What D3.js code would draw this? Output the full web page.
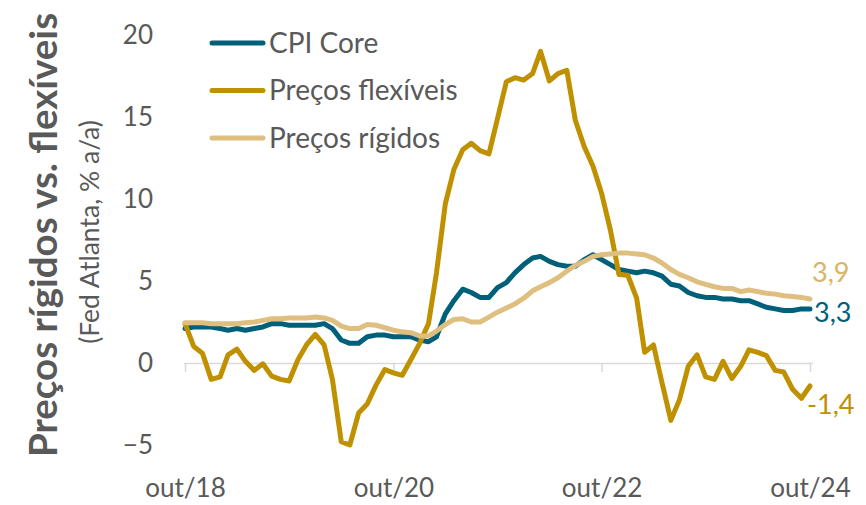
<!DOCTYPE html>
<html>
<head>
<meta charset="utf-8">
<script src="https://cdn.jsdelivr.net/npm/d3@7"></script>
<style>
  html, body { margin: 0; padding: 0; background: #fff; }
</style>
</head>
<body>
<div id="chart"></div>
<script>
// monthly, out/18 .. out/24
const startMonth = '2018-10';
const endMonth = '2024-10';
const tickLabels = ['out/18', 'out/20', 'out/22', 'out/24'];
const yTicks = [-5, 0, 5, 10, 15, 20];

const seriesNames = ['CPI Core', 'Preços flexíveis', 'Preços rígidos'];

const cpiCore = [
  2.1, 2.2, 2.2,
  2.2, 2.1, 2.0, 2.1, 2.0, 2.1, 2.2, 2.4, 2.4, 2.3, 2.3, 2.3,
  2.3, 2.4, 2.1, 1.4, 1.2, 1.2, 1.6, 1.7, 1.7, 1.6, 1.6, 1.6,
  1.4, 1.3, 1.6, 3.0, 3.8, 4.5, 4.3, 4.0, 4.0, 4.6, 4.9, 5.5,
  6.0, 6.4, 6.5, 6.2, 6.0, 5.9, 5.9, 6.3, 6.6, 6.3, 6.0, 5.7,
  5.6, 5.5, 5.6, 5.5, 5.3, 4.8, 4.7, 4.3, 4.1, 4.0, 4.0, 3.9,
  3.9, 3.8, 3.8, 3.6, 3.4, 3.3, 3.2, 3.2, 3.3, 3.3
];

const flexPrices = [
  2.4, 1.0, 0.6,
  -1.0, -0.85, 0.5, 0.85, 0.1, -0.45, -0.05, -0.8, -1.0, -1.1, 0.2, 1.1,
  1.75, 1.1, -1.0, -4.8, -5.0, -3.05, -2.5, -1.35, -0.4, -0.6, -0.75, 0.2,
  1.2, 2.4, 5.5, 9.7, 11.8, 13.0, 13.4, 12.95, 12.75, 14.9, 17.15, 17.4,
  17.25, 17.65, 19.0, 17.2, 17.65, 17.85, 14.8, 13.2, 12.0, 10.35, 8.1, 5.4,
  5.35, 3.95, 0.65, 1.1, -1.2, -3.5, -2.25, -0.2, 0.5, -0.85, -1.0, 0.1,
  -0.95, -0.2, 0.8, 0.65, 0.45, -0.45, -0.55, -1.6, -2.15, -1.4
];

const stickyPrices = [
  2.45, 2.45, 2.45,
  2.4, 2.4, 2.4, 2.4, 2.45, 2.5, 2.6, 2.7, 2.7, 2.75, 2.75, 2.75,
  2.8, 2.75, 2.6, 2.25, 2.1, 2.1, 2.35, 2.3, 2.15, 2.0, 1.9, 1.85,
  1.65, 1.65, 1.95, 2.35, 2.65, 2.7, 2.5, 2.5, 2.8, 3.1, 3.35, 3.6,
  3.95, 4.4, 4.65, 4.9, 5.2, 5.6, 5.95, 6.2, 6.5, 6.6, 6.65, 6.7,
  6.7, 6.65, 6.6, 6.4, 6.1, 5.7, 5.4, 5.2, 4.95, 4.8, 4.65, 4.55,
  4.55, 4.35, 4.45, 4.35, 4.25, 4.2, 4.1, 4.05, 4.0, 3.9
];

const endLabels = ['3,3', '-1,4', '3,9'];

class StickyFlexChart {
  constructor(container, config) {
    this.container = container;

    let defaults = {
      width: 866,
      height: 505,
      fontFamily: 'Lato, Carlito, Calibri, sans-serif',
      textColor: '#595959',
      axisColor: '#D9D9D9',
      colors: ['#00607A', '#BF9000', '#DFBF7F'],
      labelColors: ['#00607A', '#BF9000', '#D9B463'],
      lineWidth: 5,
      tickFontSize: 26,
      legendFontSize: 28
    };
    Object.assign(this, defaults, config);

    this.init();
  }

  init() {
    this.buildData();
    this.drawSvg();
    this.makeScales();
    this.drawTitle();
    this.drawAxes();
    this.drawLines();
    this.drawLegend();
    this.drawEndLabels();
  }

  buildData() {
    let parse = d3.timeParse('%Y-%m');
    this.months = d3.timeMonth.range(parse(startMonth), d3.timeMonth.offset(parse(endMonth), 1));
    let values = [cpiCore, flexPrices, stickyPrices];
    this.series = seriesNames.map((name, k) => ({
      name: name,
      color: this.colors[k],
      labelColor: this.labelColors[k],
      endLabel: endLabels[k],
      points: this.months.map((m, i) => ({ date: m, value: values[k][i] }))
    }));
  }

  drawSvg() {
    this.svg = d3.select(this.container)
      .append('svg')
      .attr('width', this.width)
      .attr('height', this.height)
      .attr('viewBox', `0 0 ${this.width} ${this.height}`)
      .style('font-family', this.fontFamily);
  }

  makeScales() {
    this.x = d3.scaleTime()
      .domain([this.months[0], this.months[this.months.length - 1]])
      .range([185, 810]);
    this.y = d3.scaleLinear()
      .domain([-5, 20])
      .range([445, 35]);
  }

  drawTitle() {
    this.svg.append('text')
      .attr('transform', 'translate(57, 235) rotate(-90)')
      .attr('text-anchor', 'middle')
      .attr('font-size', '38.5px')
      .attr('font-weight', 'bold')
      .attr('fill', this.textColor)
      .text('Preços rígidos vs. flexíveis');

    this.svg.append('text')
      .attr('transform', 'translate(99, 232) rotate(-90)')
      .attr('text-anchor', 'middle')
      .attr('font-size', '26.5px')
      .attr('fill', this.textColor)
      .text('(Fed Atlanta, % a/a)');
  }

  drawAxes() {
    let tickDates = tickLabels.map((t, i) => this.months[i * 24]);

    // zero line with tick marks
    let zeroAxis = this.svg.append('g')
      .attr('transform', `translate(0, ${this.y(0)})`)
      .call(d3.axisBottom(this.x).tickValues(tickDates).tickSize(9).tickSizeOuter(0).tickFormat(''));
    zeroAxis.select('.domain')
      .attr('stroke', this.axisColor)
      .attr('stroke-width', 1.5)
      .attr('d', `M${this.x(tickDates[0]) - 1},0.5H${this.x(tickDates[3]) + 3}`);
    zeroAxis.selectAll('.tick line').attr('stroke', this.axisColor).attr('stroke-width', 1.5);

    // labels sit below the plot (low position)
    let labelAxis = this.svg.append('g')
      .attr('transform', `translate(0, ${this.y(-5)})`)
      .call(d3.axisBottom(this.x).tickValues(tickDates).tickSize(0).tickPadding(34)
        .tickFormat((d, i) => tickLabels[i]));
    labelAxis.select('.domain').remove();
    labelAxis.selectAll('text')
      .attr('font-family', this.fontFamily)
      .attr('font-size', `${this.tickFontSize}px`)
      .attr('fill', this.textColor);

    let yAxis = this.svg.append('g')
      .attr('transform', 'translate(160, 0)')
      .call(d3.axisLeft(this.y).tickValues(yTicks).tickSize(0).tickPadding(7));
    yAxis.select('.domain').remove();
    yAxis.selectAll('text')
      .attr('font-family', this.fontFamily)
      .attr('font-size', `${this.tickFontSize}px`)
      .attr('fill', this.textColor);
  }

  drawLines() {
    let line = d3.line()
      .x(d => this.x(d.date))
      .y(d => this.y(d.value));

    this.svg.append('g').attr('id', 'lines')
      .selectAll('path')
      .data(this.series)
      .join('path')
      .attr('fill', 'none')
      .attr('stroke', d => d.color)
      .attr('stroke-width', this.lineWidth)
      .attr('stroke-linejoin', 'round')
      .attr('stroke-linecap', 'round')
      .attr('d', d => line(d.points));
  }

  drawLegend() {
    let rows = this.svg.append('g').attr('id', 'legend')
      .selectAll('g')
      .data(this.series)
      .join('g')
      .attr('transform', (d, i) => `translate(0, ${43 + i * 47.5})`);

    rows.append('line')
      .attr('x1', 212).attr('x2', 263)
      .attr('y1', 0).attr('y2', 0)
      .attr('stroke', d => d.color)
      .attr('stroke-width', this.lineWidth)
      .attr('stroke-linecap', 'round');

    rows.append('text')
      .attr('x', 269)
      .attr('dy', '0.35em')
      .attr('font-size', `${this.legendFontSize}px`)
      .attr('fill', this.textColor)
      .text(d => d.name);
  }

  drawEndLabels() {
    // offsets from the last point
    let offsets = [{ dx: 4, dy: 13 }, { dx: -3, dy: 28 }, { dx: 2, dy: -17 }];
    this.series.forEach((s, k) => {
      let last = s.points[s.points.length - 1];
      this.svg.append('text')
        .attr('x', this.x(last.date) + offsets[k].dx)
        .attr('y', this.y(last.value) + offsets[k].dy)
        .attr('font-size', '27px')
        .attr('fill', s.labelColor)
        .text(s.endLabel);
    });
  }
}

new StickyFlexChart(document.getElementById('chart'));
</script>
</body>
</html>
